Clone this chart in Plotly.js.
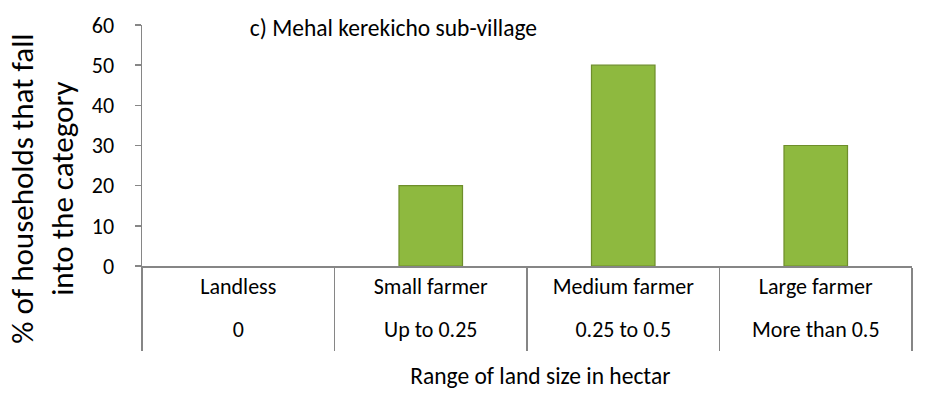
<!DOCTYPE html>
<html>
<head>
<meta charset="utf-8">
<script src="https://cdn.plot.ly/plotly-3.0.1.min.js"></script>
<style>
  html, body { margin: 0; padding: 0; background: #fff; }
  #chart { width: 935px; height: 410px; }
</style>
</head>
<body>
<div id="chart"></div>
<script>
// Data
const categories = ["Landless", "Small farmer", "Medium farmer", "Large farmer"];
const ranges = ["0", "Up to 0.25", "0.25 to 0.5", "More than 0.5"];
const values = [0, 20, 50, 30];
const chartTitle = "c) Mehal kerekicho sub-village";
const xTitle = "Range of land size in hectar";
const yTitleLines = ["% of households that fall", "into the category"];
const yTicks = [0, 10, 20, 30, 40, 50, 60];

const FONT = "Carlito, Lato, 'Open Sans', sans-serif";
const AXIS = "#868686";

// Invisible spacing helpers (the visible text is unchanged).
const nb = n => "&nbsp;".repeat(n);
const padIn = "<span style='font-size:34px'>&nbsp;</span>";
const padOut = "<span style='font-size:50px'>&nbsp;</span>";
const innerLabels = categories.map(c => padIn + c + padIn);
const outerLabels = ranges.map(r => padOut + r + padOut);

const trace = {
  type: "bar",
  x: [outerLabels, innerLabels],
  y: values,
  width: 0.33,
  marker: {
    color: "#8EB93F",
    line: { color: "#6E8E2B", width: values.map(v => (v === 0 ? 0 : 1.2)) }
  },
  hoverinfo: "skip"
};

const layout = {
  width: 935,
  height: 410,
  margin: { l: 142, r: 23, t: 25, b: 144 },
  paper_bgcolor: "#ffffff",
  plot_bgcolor: "#ffffff",
  showlegend: false,
  font: { family: FONT, color: "#000000", size: 22 },
  title: {
    text: chartTitle,
    font: { family: FONT, size: 23.5, color: "#000" },
    xref: "paper", x: 0.14, xanchor: "left",
    yref: "container", y: 0.932, yanchor: "middle"
  },
  xaxis: {
    type: "multicategory",
    showline: true,
    linecolor: AXIS,
    linewidth: 1.5,
    ticks: "",
    showgrid: false,
    zeroline: false,
    showdividers: true,
    dividercolor: AXIS,
    dividerwidth: 1.5,
    tickfont: { family: FONT, size: 22, color: "#000" },
    title: { text: nb(5) + xTitle, font: { family: FONT, size: 23.5, color: "#000" }, standoff: 18 },
    automargin: false
  },
  yaxis: {
    range: [0, 60],
    tickvals: yTicks,
    ticks: "outside",
    ticklen: 6,
    tickcolor: AXIS,
    tickwidth: 1.5,
    ticklabelstandoff: 16,
    showline: true,
    linecolor: AXIS,
    linewidth: 1.5,
    showgrid: false,
    zeroline: false,
    tickfont: { family: FONT, size: 22, color: "#000" },
    automargin: false
  },
  // y-axis title: placed as in the reference (lower than the plot-area centre)
  annotations: [{
    text: yTitleLines.join("<br>"),
    textangle: -90,
    font: { family: FONT, size: 31, color: "#000" },
    xref: "paper", x: -0.13, xanchor: "center",
    yref: "paper", y: 0.32, yanchor: "middle",
    showarrow: false
  }]
};

Plotly.newPlot("chart", [trace], layout, { displayModeBar: false, staticPlot: true });
</script>
</body>
</html>
